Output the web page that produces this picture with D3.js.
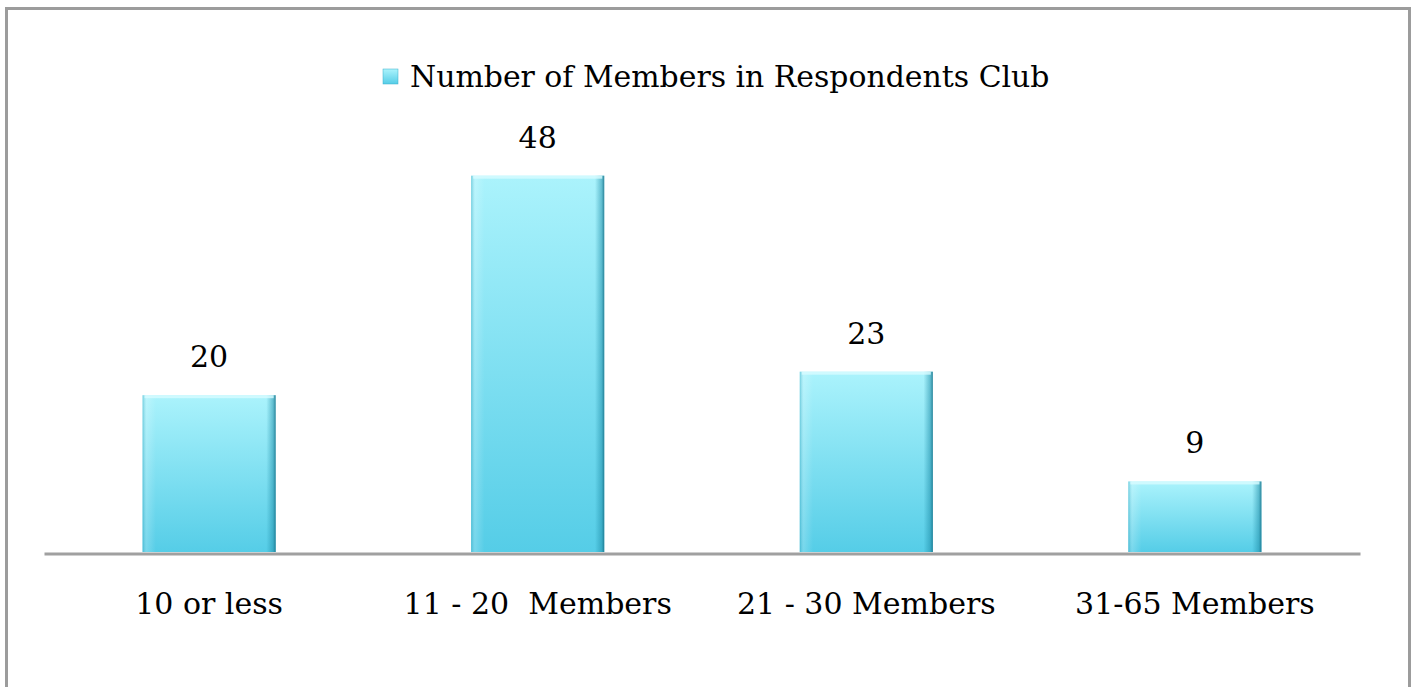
<!DOCTYPE html>
<html>
<head>
<meta charset="utf-8">
<script src="https://cdn.jsdelivr.net/npm/d3@7"></script>
<style>
  html, body { margin: 0; padding: 0; background: #fff; }
  svg { display: block; }
  text { font-family: "DejaVu Serif", "Liberation Serif", serif; fill: #000; }
</style>
</head>
<body>
<svg id="chart" width="1412" height="687"></svg>
<script>
const categories = ["10 or less", "11 - 20  Members", "21 - 30 Members", "31-65 Members"];
const values = [20, 48, 23, 9];
const seriesName = "Number of Members in Respondents Club";

const W = 1412, H = 687;
const svg = d3.select("#chart");

// outer frame
svg.append("rect").attr("x", 6.5).attr("y", 8.5).attr("width", 1403).attr("height", 700)
  .attr("fill", "#fff").attr("stroke", "#9c9c9c").attr("stroke-width", 3);

const defs = svg.append("defs");
const gv = defs.append("linearGradient").attr("id", "gv").attr("x1", 0).attr("y1", 0).attr("x2", 0).attr("y2", 1);
gv.append("stop").attr("offset", "0%").attr("stop-color", "#abf3fc");
gv.append("stop").attr("offset", "100%").attr("stop-color", "#55cde7");
const gh = defs.append("linearGradient").attr("id", "gh").attr("x1", 0).attr("y1", 0).attr("x2", 1).attr("y2", 0);
gh.append("stop").attr("offset", "0%").attr("stop-color", "#2a9fba").attr("stop-opacity", 0.45);
gh.append("stop").attr("offset", "3%").attr("stop-color", "#ffffff").attr("stop-opacity", 0.2);
gh.append("stop").attr("offset", "10%").attr("stop-color", "#ffffff").attr("stop-opacity", 0);
gh.append("stop").attr("offset", "93%").attr("stop-color", "#1c8aa5").attr("stop-opacity", 0);
gh.append("stop").attr("offset", "98%").attr("stop-color", "#1c8aa5").attr("stop-opacity", 0.5);
gh.append("stop").attr("offset", "100%").attr("stop-color", "#166f86").attr("stop-opacity", 0.85);

const x0 = 44, x1 = 1360, yBase = 552;
const x = d3.scaleBand().domain(categories).range([x0, x1]).paddingInner(0.595).paddingOuter(0.3);
const y = d3.scaleLinear().domain([0, 60]).range([yBase, yBase - 470.4]);

const bars = svg.append("g").selectAll("g").data(values).join("g");
bars.append("rect")
  .attr("x", (d, i) => x(categories[i])).attr("width", x.bandwidth())
  .attr("y", d => y(d)).attr("height", d => y(0) - y(d))
  .attr("fill", "url(#gv)");
bars.append("rect")
  .attr("x", (d, i) => x(categories[i])).attr("width", x.bandwidth())
  .attr("y", d => y(d)).attr("height", d => y(0) - y(d))
  .attr("fill", "url(#gh)");
// top highlight
bars.append("rect")
  .attr("x", (d, i) => x(categories[i]) + 2).attr("width", x.bandwidth() - 4)
  .attr("y", d => y(d)).attr("height", 3)
  .attr("fill", "#d8fbff").attr("opacity", 0.8);

// value labels
svg.append("g").selectAll("text").data(values).join("text")
  .attr("x", (d, i) => x(categories[i]) + x.bandwidth() / 2)
  .attr("y", d => y(d) - 28)
  .attr("text-anchor", "middle")
  .attr("font-size", 30)
  .text(d => d);

// axis
const axis = svg.append("g").attr("transform", `translate(0,${yBase + 1.5})`)
  .call(d3.axisBottom(x).tickSize(0).tickPadding(39));
axis.select(".domain").attr("stroke", "#a0a0a0").attr("stroke-width", 3);
axis.selectAll(".tick text").attr("font-size", 30).attr("font-family", '"DejaVu Serif", serif').attr("fill", "#000")
  .style("white-space", "pre");

// legend
const lg = svg.append("g").attr("transform", "translate(383,69)");
lg.append("rect").attr("width", 15).attr("height", 15).attr("fill", "url(#gv)").attr("stroke", "#3aaecb").attr("stroke-width", 0.5);
lg.append("text").attr("x", 27).attr("y", 7.5).attr("dy", "0.35em").attr("font-size", 29.9).text(seriesName);
</script>
</body>
</html>
